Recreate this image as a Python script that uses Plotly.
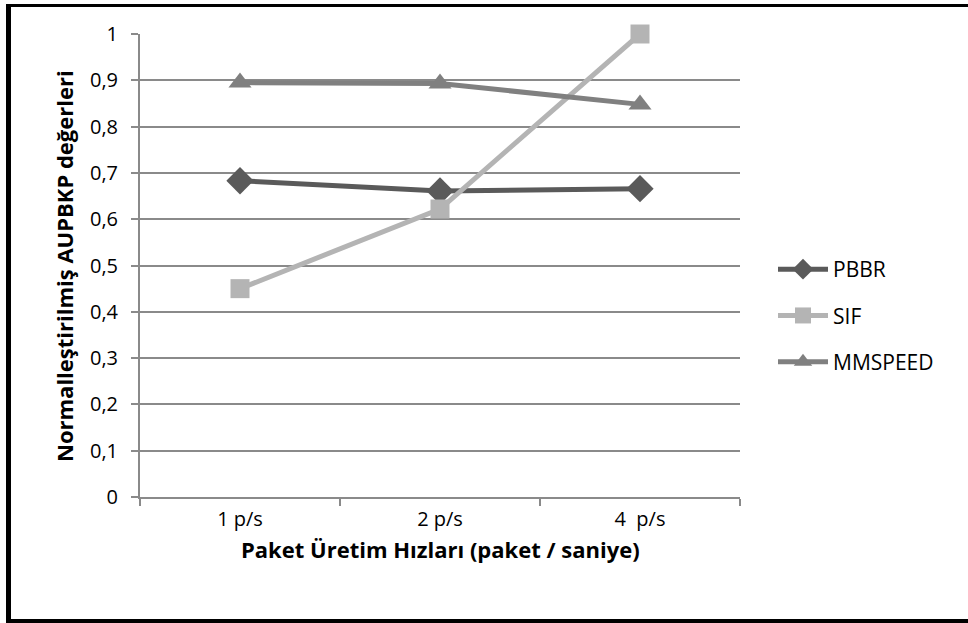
import plotly.graph_objects as go

# Packet generation rates (categories) and normalised AUPBKP values per protocol
categories = ["1 p/s", "2 p/s", "4  p/s"]
pbbr = [0.683, 0.661, 0.666]
sif = [0.450, 0.622, 1.000]
mmspeed = [0.895, 0.893, 0.848]

series = [
    ("PBBR", pbbr, "#5a5a5a", "diamond", 21),
    ("SIF", sif, "#b4b4b4", "square", 19),
    ("MMSPEED", mmspeed, "#808080", "triangle-up", 20),
]

W, H = 968, 623
L, R, T, B = 140, 740, 34, 497  # plot area in pixels


def px(x):
    return (x - L) / (R - L)


def py(y):
    return (B - y) / (B - T)


FONT = "'Open Sans', Lato, sans-serif"
GRID = "#8a8a8a"
TICK_SIZE = 20
TITLE_SIZE = 22

fig = go.Figure()
for i, (name, vals, color, symbol, size) in enumerate(series):
    fig.add_trace(go.Scatter(
        x=categories, y=vals, name=name, mode="lines+markers",
        line=dict(color=color, width=5),
        marker=dict(symbol=symbol, size=size, color=color, line=dict(width=0)),
        legendgroup=name, cliponaxis=False,
    ))

fig.update_layout(
    width=W, height=H,
    margin=dict(l=L, r=W - R, t=T, b=H - B),
    paper_bgcolor="white", plot_bgcolor="white",
    separators=", ",
    font=dict(family=FONT, size=TICK_SIZE, color="#000000"),
    showlegend=True,
    legend=dict(
        x=px(773), y=py(249), xanchor="left", yanchor="top",
        font=dict(family=FONT, size=21, color="#000000"),
        tracegroupgap=16, itemwidth=50,
        bgcolor="rgba(0,0,0,0)",
    ),
    xaxis=dict(
        type="category", range=[-0.5, 2.5],
        showline=True, linecolor=GRID, linewidth=2,
        ticks="outside", tickson="boundaries", ticklen=7, tickwidth=1.5, tickcolor=GRID,
        showgrid=False, zeroline=False,
        tickfont=dict(family=FONT, size=TICK_SIZE, color="#000000"),
        ticklabelstandoff=3,
    ),
    yaxis=dict(
        range=[0, 1], dtick=0.1, tick0=0,
        showline=True, linecolor=GRID, linewidth=2,
        ticks="outside", ticklen=7, tickwidth=1.5, tickcolor=GRID,
        showgrid=True, gridcolor=GRID, gridwidth=1.5,
        zeroline=False,
        tickfont=dict(family=FONT, size=TICK_SIZE, color="#000000"),
        ticklabelstandoff=9,
    ),
    annotations=[
        dict(text="<b>Normalleştirilmiş AUPBKP değerleri</b>", xref="paper", yref="paper",
             x=px(64), y=py(266), textangle=-90, showarrow=False,
             xanchor="center", yanchor="middle",
             font=dict(family=FONT, size=TITLE_SIZE, color="#000000")),
        dict(text="<b>Paket Üretim Hızları (paket / saniye)</b>", xref="paper", yref="paper",
             x=px(440), y=py(549), showarrow=False,
             xanchor="center", yanchor="middle",
             font=dict(family=FONT, size=TITLE_SIZE, color="#000000")),
    ],
    shapes=[
        # outer frame (left, top, bottom edges)
        dict(type="line", xref="paper", yref="paper", x0=px(8.5), x1=px(8.5),
             y0=py(4), y1=py(623), line=dict(color="black", width=5)),
        dict(type="line", xref="paper", yref="paper", x0=px(6), x1=px(975),
             y0=py(5.5), y1=py(5.5), line=dict(color="black", width=3)),
        dict(type="line", xref="paper", yref="paper", x0=px(6), x1=px(975),
             y0=py(621), y1=py(621), line=dict(color="black", width=4)),
    ],
)

fig.write_html("out.html")
